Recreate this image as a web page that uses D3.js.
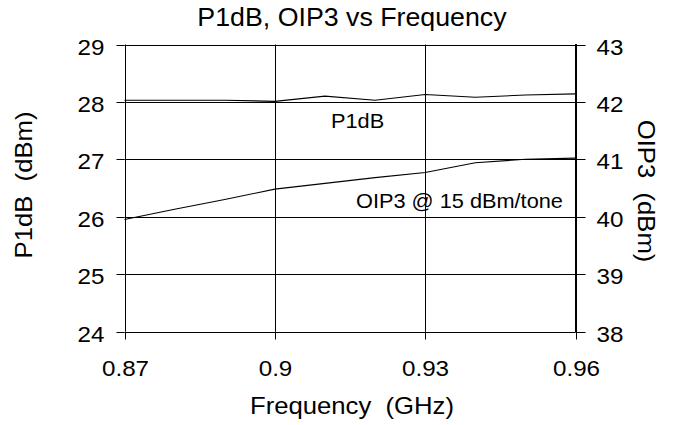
<!DOCTYPE html>
<html>
<head>
<meta charset="utf-8">
<script src="https://cdn.jsdelivr.net/npm/d3@7/dist/d3.min.js"></script>
<style>
  html, body { margin: 0; padding: 0; background: #fff; }
  svg { display: block; }
  text { font-family: "Liberation Sans", Arial, sans-serif; fill: #000; }
</style>
</head>
<body>
<svg id="chart" width="679" height="425"></svg>
<script>
// Frequency sweep (GHz)
const frequency = [0.87, 0.88, 0.89, 0.90, 0.91, 0.92, 0.93, 0.94, 0.95, 0.96];
// Output 1 dB compression point (dBm), left axis
const p1db = [28.03, 28.03, 28.03, 28.01, 28.10, 28.03, 28.13, 28.08, 28.12, 28.14];
// Output third-order intercept at 15 dBm/tone (dBm), right axis
const oip3 = [39.95, 40.13, 40.30, 40.48, 40.58, 40.68, 40.77, 40.94, 41.00, 41.02];

const xTicks = [0.87, 0.90, 0.93, 0.96];
const xTickLabels = ["0.87", "0.9", "0.93", "0.96"];
const leftTicks = [24, 25, 26, 27, 28, 29];
const rightTicks = [38, 39, 40, 41, 42, 43];

const svg = d3.select("#chart");
const plot = { left: 124.5, right: 575.5, top: 44.5, bottom: 331.5 };

const x = d3.scaleLinear().domain([0.87, 0.96]).range([plot.left, plot.right]);
const yL = d3.scaleLinear().domain([24, 29]).range([plot.bottom, plot.top]);
const yR = d3.scaleLinear().domain([38, 43]).range([plot.bottom, plot.top]);

// Widen glyphs horizontally by a factor, keeping their height
function widen(sel, factor) {
  sel.each(function () {
    const w = this.getComputedTextLength();
    d3.select(this).attr("textLength", (w * factor).toFixed(2)).attr("lengthAdjust", "spacingAndGlyphs");
  });
}

// Horizontal gridlines
svg.append("g")
  .selectAll("line").data(leftTicks).join("line")
  .attr("x1", plot.left).attr("x2", plot.right)
  .attr("y1", d => Math.round(yL(d)) + 0.5).attr("y2", d => Math.round(yL(d)) + 0.5)
  .attr("stroke", "#000").attr("stroke-width", 1);

// Vertical gridlines
svg.append("g")
  .selectAll("line").data(xTicks).join("line")
  .attr("x1", d => Math.round(x(d)) + 0.5).attr("x2", d => Math.round(x(d)) + 0.5)
  .attr("y1", plot.top).attr("y2", plot.bottom)
  .attr("stroke", "#000").attr("stroke-width", 1);

// Heavier right frame edge
svg.append("line")
  .attr("x1", plot.right + 0.5).attr("x2", plot.right + 0.5)
  .attr("y1", plot.top - 0.5).attr("y2", plot.bottom + 0.5)
  .attr("stroke", "#000").attr("stroke-width", 2);

// Axes
const styleAxis = g => {
  g.select(".domain").remove();
  g.selectAll(".tick line").attr("stroke", "#000").attr("stroke-width", 1);
  g.selectAll(".tick text").attr("font-size", 22)
    .attr("font-family", "'Liberation Sans', Arial, sans-serif").attr("fill", "#000");
};

const gLeft = svg.append("g")
  .attr("transform", `translate(${plot.left},0)`)
  .call(d3.axisLeft(yL).tickValues(leftTicks).tickSize(8).tickPadding(12).tickFormat(d3.format("d"))
    .offset(0))
  .call(styleAxis)
  .call(g => g.selectAll(".tick text").attr("dy", "0.45em"))
  .call(g => g.selectAll(".tick").attr("transform", d => `translate(0,${Math.round(yL(d)) + 0.5})`));

const gRight = svg.append("g")
  .attr("transform", `translate(${plot.right},0)`)
  .call(d3.axisRight(yR).tickValues(rightTicks).tickSize(10).tickPadding(11).tickFormat(d3.format("d"))
    .offset(0))
  .call(styleAxis)
  .call(g => g.selectAll(".tick text").attr("dy", "0.45em"))
  .call(g => g.selectAll(".tick").attr("transform", d => `translate(0,${Math.round(yR(d)) + 0.5})`));

const gBottom = svg.append("g")
  .attr("transform", `translate(0,${plot.bottom})`)
  .call(d3.axisBottom(x).tickValues(xTicks).tickSize(8).tickPadding(21)
    .tickFormat((d, i) => xTickLabels[i]).offset(0))
  .call(styleAxis)
  .call(g => g.selectAll(".tick").attr("transform", d => `translate(${Math.round(x(d)) + 0.5},0)`));

[gLeft, gRight, gBottom].forEach(g => widen(g.selectAll(".tick text"), 1.1));

// Data lines
const lineL = d3.line().x((d, i) => x(frequency[i])).y(d => yL(d));
const lineR = d3.line().x((d, i) => x(frequency[i])).y(d => yR(d));

svg.append("path").datum(p1db).attr("d", lineL)
  .attr("fill", "none").attr("stroke", "#000").attr("stroke-width", 1.1);
svg.append("path").datum(oip3).attr("d", lineR)
  .attr("fill", "none").attr("stroke", "#000").attr("stroke-width", 1.1);

// Series annotations
const notes = svg.append("g");
notes.append("text").attr("x", 331).attr("y", 128).attr("font-size", 21).text("P1dB");
notes.append("text").attr("x", 356).attr("y", 208).attr("font-size", 21).text("OIP3 @ 15 dBm/tone");
widen(notes.selectAll("text"), 1.035);

// Title and axis titles
const titles = svg.append("g");
titles.append("text").attr("x", 352).attr("y", 26).attr("text-anchor", "middle")
  .attr("font-size", 25).text("P1dB, OIP3 vs Frequency");

titles.append("text").attr("x", 352).attr("y", 414).attr("text-anchor", "middle")
  .attr("font-size", 24).style("white-space", "pre")
  .text("Frequency  (GHz)");

titles.append("text").attr("transform", "translate(32,185) rotate(-90)")
  .attr("text-anchor", "middle").attr("font-size", 24).style("white-space", "pre")
  .text("P1dB  (dBm)");

titles.append("text").attr("transform", "translate(638,191) rotate(90)")
  .attr("text-anchor", "middle").attr("font-size", 24).style("white-space", "pre")
  .text("OIP3  (dBm)");

widen(titles.selectAll("text"), 1.07);
</script>
</body>
</html>
